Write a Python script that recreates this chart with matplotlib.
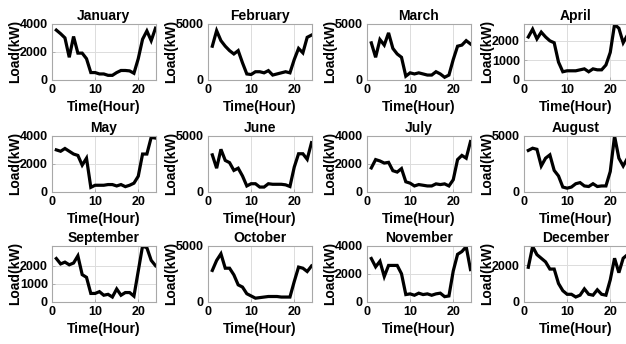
import matplotlib
matplotlib.use("Agg")
import matplotlib.pyplot as plt
import numpy as np

hours = list(range(1, 25))

months = ["January", "February", "March", "April", "May", "June",
          "July", "August", "September", "October", "November", "December"]

january = [3560, 3300, 3000, 1600, 3100, 1900, 1900, 1500, 500, 500, 400, 400,
           300, 300, 500, 650, 650, 620, 450, 1500, 2900, 3500, 2800, 3700]
february = [3000, 4400, 3500, 3000, 2600, 2300, 2600, 1500, 500, 450, 700, 700,
            600, 800, 400, 500, 600, 700, 600, 1800, 2800, 2400, 3800, 4000]
march = [3300, 2000, 3600, 3100, 4200, 2800, 2300, 2000, 300, 600, 500, 600,
         500, 400, 400, 700, 500, 200, 400, 1800, 3000, 3100, 3500, 3200]
april = [2200, 2600, 2100, 2450, 2200, 2000, 1900, 900, 400, 450, 450, 450,
         500, 550, 400, 550, 500, 500, 750, 1400, 2850, 2650, 1900, 2300]
may = [3000, 2900, 3100, 2900, 2700, 2600, 1900, 2400, 300, 450, 450, 450,
       500, 500, 400, 500, 350, 450, 600, 1100, 2700, 2700, 3900, 3850]
june = [3300, 2100, 3800, 2800, 2600, 1900, 2100, 1400, 500, 700, 700, 400,
        400, 700, 650, 650, 650, 600, 450, 2200, 3400, 3400, 2900, 4400]
july = [1700, 2300, 2200, 2050, 2100, 1500, 1400, 1650, 700, 600, 400, 500,
        450, 400, 400, 550, 500, 550, 400, 850, 2300, 2600, 2400, 3600]
august = [3700, 3900, 3800, 2300, 3000, 3300, 1900, 1400, 400, 300, 400, 700,
          800, 500, 450, 700, 450, 500, 500, 1800, 5000, 3000, 2300, 3000]
september = [2400, 2100, 2200, 2050, 2150, 2550, 1500, 1350, 450, 450, 550, 350,
             400, 250, 700, 350, 500, 500, 300, 1700, 3100, 3000, 2300, 2000]
october = [2800, 3700, 4300, 3000, 3000, 2400, 1500, 1300, 700, 500, 300, 350,
           400, 450, 450, 450, 400, 400, 400, 1800, 3100, 3000, 2700, 3200]
november = [3100, 2500, 2900, 1800, 2600, 2600, 2600, 2000, 500, 550, 450, 600,
            500, 550, 450, 550, 600, 350, 400, 2200, 3400, 3600, 3950, 2300]
december = [1900, 3050, 2600, 2400, 2200, 1800, 1800, 1000, 600, 400, 400, 250,
            350, 700, 400, 350, 650, 400, 350, 1200, 2400, 1600, 2400, 2600]

loads = [january, february, march, april, may, june,
         july, august, september, october, november, december]

y_max = [4000, 5000, 5000, 2870, 4000, 5000, 4000, 5000, 3100, 5000, 4000, 3080]
y_ticks = [[0, 2000, 4000], [0, 5000], [0, 5000], [0, 1000, 2000],
           [0, 2000, 4000], [0, 5000], [0, 2000, 4000], [0, 5000],
           [0, 1000, 2000], [0, 5000], [0, 2000, 4000], [0, 2000]]
x_ticks = [0, 10, 20]

plt.rcParams["font.family"] = ["Liberation Sans", "DejaVu Sans"]
plt.rcParams["font.weight"] = "bold"

W, H = 626, 344
fig = plt.figure(figsize=(W / 100, H / 100), dpi=100)

col_left = [52, 208, 367, 524]
row_top = [24, 136, 246]
ax_w, ax_h = 103.5, 55.5

for i, (name, load) in enumerate(zip(months, loads)):
    r, c = divmod(i, 4)
    left = col_left[c] / W
    bottom = 1 - (row_top[r] + ax_h) / H
    ax = fig.add_axes([left, bottom, ax_w / W, ax_h / H])
    ax.plot(hours, load, color="black", lw=2.3, solid_joinstyle="miter")
    ax.set_xlim(0, 24)
    ax.set_ylim(0, y_max[i])
    ax.set_xticks(x_ticks)
    ax.set_yticks(y_ticks[i])
    ax.grid(True, color="#dcdcdc", lw=0.7)
    ax.set_axisbelow(True)
    for s in ax.spines.values():
        s.set_color("#a8a8a8")
        s.set_linewidth(0.8)
    ax.tick_params(direction="in", length=2.5, width=0.6, color="#a8a8a8",
                   labelsize=9, pad=3)
    for lab in ax.get_xticklabels() + ax.get_yticklabels():
        lab.set_fontweight("bold")
    ax.set_title(name, fontsize=10, fontweight="bold", pad=3)
    ax.set_xlabel("Time(Hour)", fontsize=10, fontweight="bold", va="center")
    ax.set_ylabel("Load(kW)", fontsize=10, fontweight="bold", va="center")
    ax.xaxis.set_label_coords(0.5, -27 / ax_h)
    ax.yaxis.set_label_coords(-37 / ax_w, 0.5)

fig.savefig("out.png", dpi=100, facecolor="white")
